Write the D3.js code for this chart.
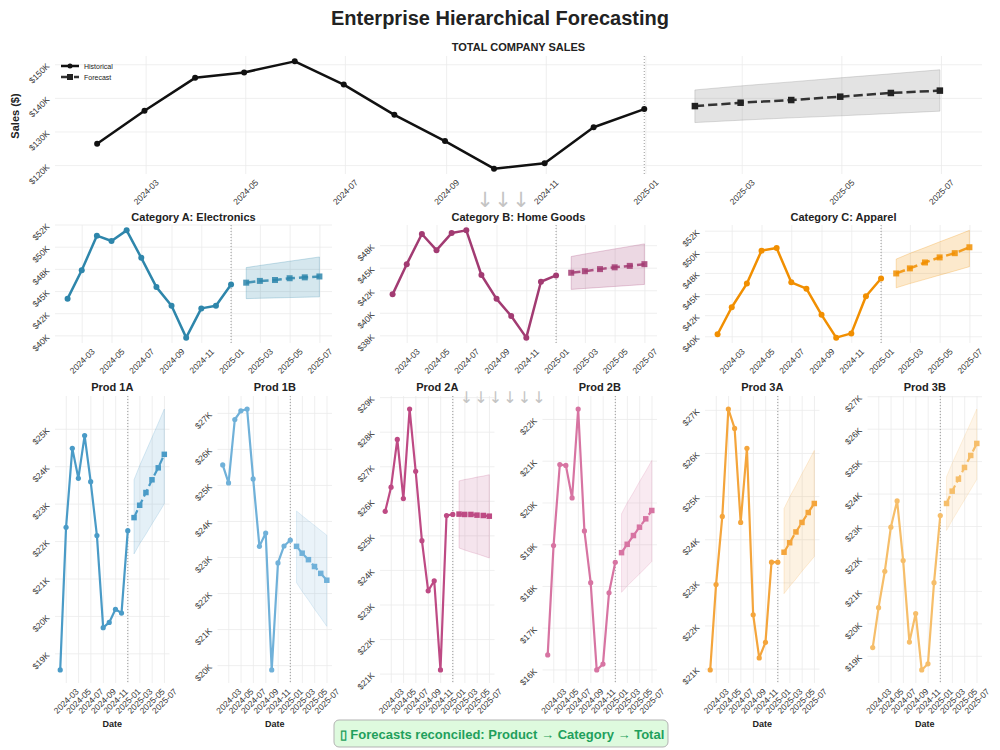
<!DOCTYPE html>
<html>
<head>
<meta charset="utf-8">
<script src="https://cdn.jsdelivr.net/npm/d3@7"></script>
<style>
body { margin: 0; background: #fff; }
svg { font-family: "Liberation Sans", Arial, sans-serif; }
</style>
</head>
<body>
<svg id="chart" width="1000" height="750"></svg>
<script>
// values in thousands of dollars
var histDates = ["2024-01-31", "2024-02-29", "2024-03-31", "2024-04-30", "2024-05-31", "2024-06-30",
    "2024-07-31", "2024-08-31", "2024-09-30", "2024-10-31", "2024-11-30", "2024-12-31"];
var fcDates = ["2025-01-31", "2025-02-28", "2025-03-31", "2025-04-30", "2025-05-31", "2025-06-30"];
var tickDates = ["2024-03-01", "2024-05-01", "2024-07-01", "2024-09-01", "2024-11-01",
    "2025-01-01", "2025-03-01", "2025-05-01", "2025-07-01"];

var totalHist = [126.5, 136.3, 146.1, 147.7, 151.0, 144.1, 135.1, 127.3, 119.1, 120.7, 131.4, 136.8];
var totalFc = [137.7, 138.7, 139.5, 140.5, 141.6, 142.3];
var totalLo = [132.8, 133.5, 134.2, 134.8, 135.5, 136.2];
var totalHi = [142.5, 143.7, 144.9, 146.1, 147.3, 148.5];

var catNames = ["Category A: Electronics", "Category B: Home Goods", "Category C: Apparel"];
var catColors = ["#2E86AB", "#A23B72", "#F18F01"];
var catHist = [
    [44.2, 47.4, 51.3, 50.7, 51.9, 48.8, 45.5, 43.4, 39.8, 43.1, 43.4, 45.8],
    [42.1, 45.45, 48.8, 47.0, 48.9, 49.2, 44.25, 41.6, 39.7, 37.3, 43.5, 44.2],
    [40.3, 43.5, 46.3, 50.2, 50.5, 46.45, 45.7, 42.6, 39.9, 40.4, 44.8, 46.9]
];
var catFc = [
    [46.0, 46.2, 46.3, 46.5, 46.6, 46.7],
    [44.5, 44.67, 44.9, 45.1, 45.26, 45.45],
    [47.5, 48.1, 48.8, 49.4, 49.9, 50.6]
];
var catLo = [
    [44.2, 44.24, 44.28, 44.32, 44.36, 44.4],
    [42.65, 42.76, 42.87, 42.98, 43.09, 43.2],
    [45.8, 46.3, 46.8, 47.3, 47.8, 48.3]
];
var catHi = [
    [47.7, 47.94, 48.18, 48.42, 48.66, 48.9],
    [46.3, 46.58, 46.86, 47.14, 47.42, 47.7],
    [49.2, 49.88, 50.56, 51.24, 51.92, 52.6]
];

var prodNames = ["Prod 1A", "Prod 1B", "Prod 2A", "Prod 2B", "Prod 3A", "Prod 3B"];
var prodColors = ["#4A9BC7", "#70B1D9", "#BE4A84", "#D774A2", "#F4A53C", "#F6BE6A"];
var prodHist = [
    [18.57, 22.38, 24.49, 23.69, 24.83, 23.6, 22.16, 19.7, 19.84, 20.19, 20.09, 22.29],
    [25.57, 25.07, 26.83, 27.07, 27.12, 25.18, 23.31, 23.68, 19.88, 22.85, 23.32, 23.48],
    [25.71, 26.41, 27.79, 26.08, 28.67, 26.87, 24.86, 23.41, 23.7, 21.12, 25.59, 25.62],
    [16.36, 18.98, 20.92, 20.9, 20.12, 22.25, 19.33, 18.09, 16.0, 16.14, 17.85, 18.58],
    [20.98, 22.96, 24.54, 27.03, 26.58, 24.4, 26.12, 22.26, 21.26, 21.62, 23.48, 23.48],
    [19.27, 20.5, 21.62, 22.98, 23.79, 21.95, 19.44, 20.32, 18.58, 18.77, 21.27, 23.34]
];
var prodFc = [
    [22.64, 22.97, 23.31, 23.65, 23.97, 24.33],
    [23.31, 23.12, 22.94, 22.75, 22.56, 22.37],
    [25.63, 25.62, 25.62, 25.6, 25.59, 25.57],
    [18.81, 19.01, 19.22, 19.42, 19.62, 19.82],
    [23.71, 23.93, 24.18, 24.4, 24.63, 24.84],
    [23.71, 24.09, 24.46, 24.82, 25.19, 25.56]
];
var prodLo = [
    [21.67, 21.94, 22.2, 22.47, 22.74, 23.01],
    [22.3, 22.06, 21.82, 21.57, 21.33, 21.09],
    [24.65, 24.59, 24.53, 24.48, 24.42, 24.36],
    [17.86, 18.01, 18.16, 18.3, 18.45, 18.6],
    [22.75, 22.92, 23.09, 23.27, 23.44, 23.61],
    [22.88, 23.19, 23.51, 23.82, 24.14, 24.45]
];
var prodHi = [
    [23.65, 24.03, 24.41, 24.78, 25.16, 25.54],
    [24.29, 24.16, 24.02, 23.89, 23.75, 23.62],
    [26.59, 26.63, 26.66, 26.7, 26.73, 26.77],
    [19.74, 20.0, 20.25, 20.51, 20.76, 21.02],
    [24.72, 24.99, 25.26, 25.53, 25.8, 26.07],
    [24.53, 24.95, 25.37, 25.78, 26.2, 26.62]
];

var parse = d3.timeParse("%Y-%m-%d"),
    fmtDate = d3.timeFormat("%Y-%m"),
    hd = histDates.map(parse),
    fd = fcDates.map(parse),
    td = tickDates.map(parse);

var svg = d3.select("#chart");

// python style rounding (half to even) for the $K labels
function money(v) {
    var f = Math.floor(v), r = v - f, n;
    if (Math.abs(r - 0.5) < 1e-9) n = f % 2 === 0 ? f : f + 1; else n = Math.round(v);
    return "$" + n + "K";
}

function drawPanel(p) {
    var g = svg.append("g").attr("transform", "translate(" + p.x + "," + p.y + ")");
    var t0 = +hd[0], t1 = +fd[fd.length - 1], pad = (t1 - t0) * 0.05;
    var x = d3.scaleTime().domain([new Date(t0 - pad), new Date(t1 + pad)]).range([0, p.w]);
    var all = p.hist.concat(p.fc, p.lo, p.hi),
        lo = d3.min(all), hi = d3.max(all), m = (hi - lo) * 0.05;
    var y = d3.scaleLinear().domain([lo - m, hi + m]).range([p.h, 0]);
    var yt = d3.range(Math.ceil((lo - m) / p.step - 1e-6) * p.step, hi + m + 1e-3, p.step);

    g.selectAll(".hg").data(yt).enter().append("line")
        .attr("x1", 0).attr("x2", p.w).attr("y1", y).attr("y2", y)
        .attr("stroke", "#ebebeb").attr("stroke-width", 0.8);
    g.selectAll(".vg").data(td).enter().append("line")
        .attr("x1", x).attr("x2", x).attr("y1", 0).attr("y2", p.h)
        .attr("stroke", "#ebebeb").attr("stroke-width", 0.8);

    g.selectAll(".yl").data(yt).enter().append("text")
        .attr("transform", function (d) { return "translate(-5," + (y(d) + 2) + ") rotate(-45)"; })
        .attr("text-anchor", "end").attr("font-size", 8.5).attr("fill", "#333").text(money);
    g.selectAll(".xl").data(td).enter().append("text")
        .attr("transform", function (d) { return "translate(" + x(d) + "," + (p.h + 18) + ") rotate(-45)"; })
        .attr("text-anchor", "middle").attr("dy", "0.35em").attr("font-size", 8.5).attr("fill", "#333")
        .text(fmtDate);

    var band = d3.area().x(function (d, i) { return x(fd[i]); })
        .y0(function (d, i) { return y(p.lo[i]); }).y1(function (d, i) { return y(p.hi[i]); });
    g.append("path").datum(p.fc).attr("d", band)
        .attr("fill", p.bandColor).attr("fill-opacity", p.bandOpacity)
        .attr("stroke", p.bandColor).attr("stroke-opacity", p.bandOpacity + 0.05).attr("stroke-width", 1);

    g.append("line").attr("x1", x(hd[hd.length - 1])).attr("x2", x(hd[hd.length - 1]))
        .attr("y1", 0).attr("y2", p.h)
        .attr("stroke", "#999").attr("stroke-width", 1).attr("stroke-dasharray", "1,2");

    var lineH = d3.line().x(function (d, i) { return x(hd[i]); }).y(function (d) { return y(d); });
    var lineF = d3.line().x(function (d, i) { return x(fd[i]); }).y(function (d) { return y(d); });

    g.append("path").datum(p.hist).attr("d", lineH).attr("fill", "none")
        .attr("stroke", p.color).attr("stroke-width", p.lw).attr("stroke-linejoin", "round");
    g.selectAll(".hp").data(p.hist).enter().append("circle")
        .attr("cx", function (d, i) { return x(hd[i]); }).attr("cy", y)
        .attr("r", p.r).attr("fill", p.color);

    g.append("path").datum(p.fc).attr("d", lineF).attr("fill", "none")
        .attr("stroke", p.fcColor).attr("stroke-opacity", p.fcOpacity)
        .attr("stroke-width", p.lw).attr("stroke-dasharray", (p.lw * 3.7) + "," + (p.lw * 1.6));
    g.selectAll(".fp").data(p.fc).enter().append("rect")
        .attr("x", function (d, i) { return x(fd[i]) - p.sq / 2; })
        .attr("y", function (d) { return y(d) - p.sq / 2; })
        .attr("width", p.sq).attr("height", p.sq)
        .attr("fill", p.fcMark).attr("fill-opacity", p.fcOpacity);

    g.append("text").attr("x", p.w / 2).attr("y", p.titleY)
        .attr("text-anchor", "middle").attr("font-size", 11).attr("font-weight", "bold")
        .attr("fill", "#222").text(p.title);

    if (p.dateLabel) {
        g.append("text").attr("class", "dateLabel").attr("x", p.w / 2).attr("y", p.h + 44)
            .attr("text-anchor", "middle").attr("font-size", 9).attr("font-weight", "bold")
            .attr("fill", "#222").text("Date");
    }
    return g;
}

svg.append("text").attr("x", 500).attr("y", 25).attr("text-anchor", "middle")
    .attr("font-size", 20).attr("font-weight", "bold").attr("fill", "#222")
    .text("Enterprise Hierarchical Forecasting");

var topPanel = drawPanel({
    x: 55, y: 56, w: 927, h: 118, step: 10, title: "TOTAL COMPANY SALES", titleY: -5,
    hist: totalHist, fc: totalFc, lo: totalLo, hi: totalHi,
    color: "#111", fcColor: "#333", fcMark: "#222", fcOpacity: 1,
    bandColor: "#808080", bandOpacity: 0.22, lw: 2.5, r: 3, sq: 6.5
});

svg.append("text").attr("transform", "translate(19,116) rotate(-90)").attr("text-anchor", "middle")
    .attr("font-size", 11).attr("font-weight", "bold").attr("fill", "#222").text("Sales ($)");

// legend
var lg = topPanel.append("g").attr("transform", "translate(6,0)");
lg.append("line").attr("x1", 0).attr("x2", 18).attr("y1", 10).attr("y2", 10)
    .attr("stroke", "#111").attr("stroke-width", 2.5);
lg.append("circle").attr("cx", 9).attr("cy", 10).attr("r", 2.5).attr("fill", "#111");
lg.append("line").attr("x1", 0).attr("x2", 18).attr("y1", 21).attr("y2", 21)
    .attr("stroke", "#333").attr("stroke-width", 2.5).attr("stroke-dasharray", "9,4");
lg.append("rect").attr("x", 6).attr("y", 18).attr("width", 6).attr("height", 6).attr("fill", "#222");
lg.append("text").attr("x", 23).attr("y", 12.5).attr("font-size", 7).attr("fill", "#222").text("Historical");
lg.append("text").attr("x", 23).attr("y", 23.5).attr("font-size", 7).attr("fill", "#222").text("Forecast");

var catX = [55, 380, 705];
catNames.forEach(function (name, i) {
    drawPanel({
        x: catX[i], y: 225, w: 277, h: 118, step: 2.5, title: name, titleY: -4,
        hist: catHist[i], fc: catFc[i], lo: catLo[i], hi: catHi[i],
        color: catColors[i], fcColor: catColors[i], fcMark: catColors[i], fcOpacity: 0.85,
        bandColor: catColors[i], bandOpacity: 0.2, lw: 2.5, r: 3, sq: 6
    });
});

var prodX = [55, 217.5, 380, 542.5, 705, 867.5];
prodNames.forEach(function (name, i) {
    drawPanel({
        x: prodX[i], y: 396, w: 114.5, h: 287, step: 1, title: name, titleY: -5,
        hist: prodHist[i], fc: prodFc[i], lo: prodLo[i], hi: prodHi[i],
        color: prodColors[i], fcColor: prodColors[i], fcMark: prodColors[i], fcOpacity: 1,
        bandColor: prodColors[i], bandOpacity: 0.15, lw: 2.2, r: 2.6, sq: 5.5, dateLabel: true
    });
});

// flow arrows between levels
svg.selectAll(".arrowTop").data([485, 503, 521]).enter().append("text")
    .attr("x", function (d) { return d; }).attr("y", 207).attr("text-anchor", "middle")
    .attr("font-family", "DejaVu Sans").attr("font-size", 21).attr("fill", "#c4c4c4").text("\u2193");
svg.selectAll(".arrowBot").data([466.5, 481, 495.5, 510, 524.5, 539]).enter().append("text")
    .attr("x", function (d) { return d; }).attr("y", 403).attr("text-anchor", "middle")
    .attr("font-family", "DejaVu Sans").attr("font-size", 16).attr("fill", "#c4c4c4").text("\u2193");

// reconciliation note
svg.append("rect").attr("x", 334).attr("y", 720).attr("width", 334).attr("height", 27).attr("rx", 5)
    .attr("fill", "#defade").attr("stroke", "#b3b3b3").attr("stroke-width", 1);
svg.append("text").attr("x", 502).attr("y", 738.5).attr("text-anchor", "middle")
    .attr("font-size", 13).attr("font-weight", "bold").attr("fill", "#1fa05c")
    .text("\u25AF Forecasts reconciled: Product \u2192 Category \u2192 Total");
svg.selectAll(".dateLabel").raise();
</script>
</body>
</html>
